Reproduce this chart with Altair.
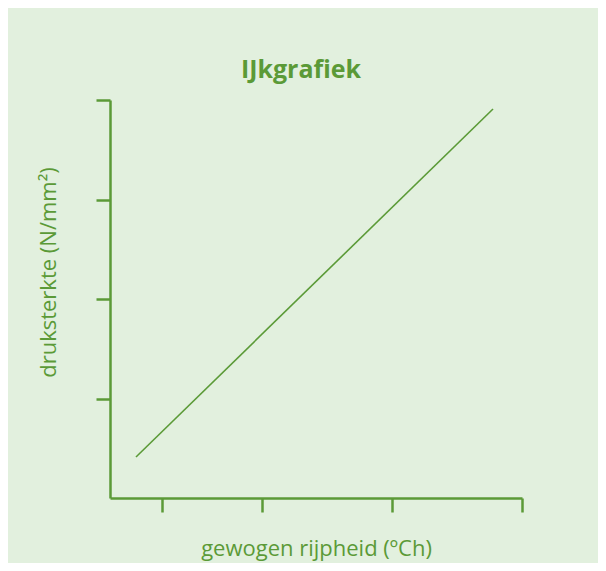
import altair as alt
import pandas as pd

# calibration line (arbitrary units)
rijpheid = [26, 383]
druksterkte = [41, 389]

x_ticks = [52, 152, 282, 412]
y_ticks = [99, 199, 298, 398]

GREEN = "#5b9a37"
BG = "#e2f0de"
FONT = "Open Sans"

df = pd.DataFrame({"rijpheid": rijpheid, "druksterkte": druksterkte})

chart = alt.Chart(df).mark_line(color=GREEN, strokeWidth=1.6).encode(
    x=alt.X("rijpheid:Q",
            scale=alt.Scale(domain=[0, 412], nice=False, zero=False),
            axis=alt.Axis(title="gewogen rijpheid (ºCh)", values=x_ticks, labels=False,
                          grid=False, domainColor=GREEN, domainWidth=2.5,
                          tickColor=GREEN, tickWidth=2.5, tickSize=14,
                          titleColor=GREEN, titleFont=FONT, titleFontSize=22,
                          titleFontWeight="normal", titleBaseline="alphabetic",
                          titleY=57)),
    y=alt.Y("druksterkte:Q",
            scale=alt.Scale(domain=[0, 398], nice=False, zero=False),
            axis=alt.Axis(title="druksterkte (N/mm²)", values=y_ticks, labels=False,
                          grid=False, domainColor=GREEN, domainWidth=2.5,
                          tickColor=GREEN, tickWidth=2.5, tickSize=14,
                          titleColor=GREEN, titleFont=FONT, titleFontSize=22,
                          titleFontWeight="normal", titleAngle=-90,
                          titleAlign="center", titleBaseline="alphabetic",
                          titleX=-55, titleY=172)),
).properties(
    width=412,
    height=398,
    background=BG,
    padding={"left": 102, "top": 92, "right": 76, "bottom": 65},
    autosize=alt.AutoSizeParams(type="none"),
    title=alt.TitleParams("IJkgrafiek", font=FONT, fontSize=25, fontWeight="bold",
                          color=GREEN, anchor="middle", frame="group",
                          baseline="alphabetic", offset=22, dx=-15, dy=26),
).configure_view(stroke=None, fill=BG)

chart.save("out.html", embed_options={"renderer": "svg", "actions": False})
